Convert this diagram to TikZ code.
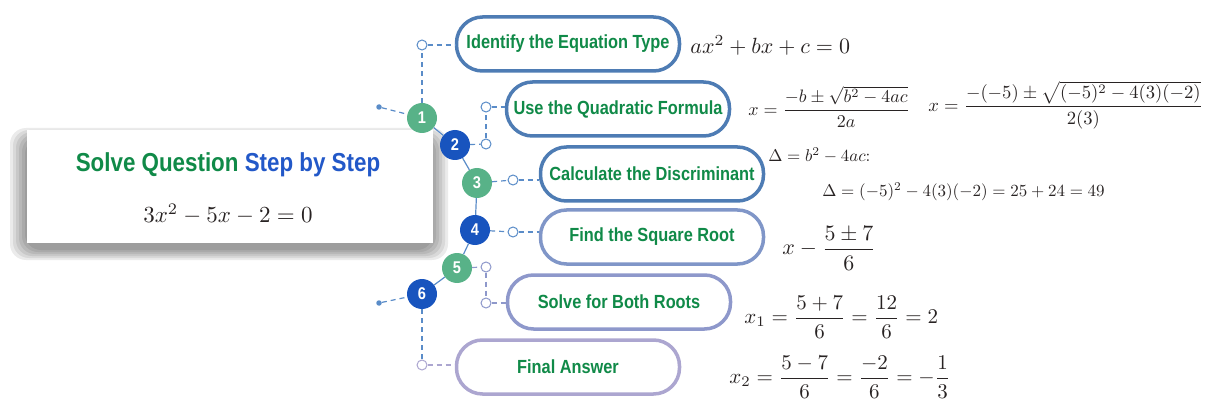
\documentclass[tikz,border=0pt]{standalone}
\usepackage{amsmath}
\usepackage{fontspec}
\newfontfamily\pillfont[FakeStretch=0.86]{Liberation Sans}
\usepackage{tikz}
\usetikzlibrary{calc}

\definecolor{solvegreen}{RGB}{16,138,72}
\definecolor{stepblue}{RGB}{34,88,200}
\definecolor{numgreen}{RGB}{88,178,136}
\definecolor{numblue}{RGB}{24,84,190}
\definecolor{edgeA}{RGB}{78,124,180}
\definecolor{edgeB}{RGB}{128,150,200}
\definecolor{edgeC}{RGB}{142,152,203}
\definecolor{edgeD}{RGB}{172,166,208}
\definecolor{linkblue}{RGB}{90,140,200}
\definecolor{mathgray}{RGB}{40,35,35}

\begin{document}
\begin{tikzpicture}[x=1pt, y=-1pt,
        pill/.style={draw=#1, line width=3.5pt, fill=white, rounded corners=26pt,
            minimum width=223pt, minimum height=54pt, text=solvegreen,
            font=\pillfont\bfseries\fontsize{19}{21}\selectfont},
        pill/.default=edgeA,
        stepnum/.style={circle, fill=#1, minimum size=30pt, inner sep=0pt, text=white,
            font=\pillfont\bfseries\fontsize{17}{19}\selectfont},
        hole/.style={circle, draw=#1, fill=white, line width=1pt, minimum size=10pt, inner sep=0pt},
        hole/.default=linkblue,
        dot/.style={circle, fill=linkblue, minimum size=5.5pt, inner sep=0pt},
        branch/.style={draw=#1, line width=1.2pt, dash pattern=on 5pt off 4pt},
        branch/.default=linkblue,
        chain/.style={draw=linkblue, line width=1.2pt},
        eq/.style={anchor=west, inner sep=0pt, text=mathgray, scale=#1},
        eq/.default=2]
        \useasboundingbox (0,0) rectangle (1218,406);

        % card with its soft shadow
        \foreach \k in {0,...,5} {
            \fill[black, opacity=0.08, rounded corners=16pt] (10+3*\k,128+2*\k) rectangle (448-3*\k,260-2*\k);
        }
        \fill[white] (27,130) rectangle (433,243);
        \node[font=\pillfont\bfseries\fontsize{26}{30}\selectfont] (title) at (228,165)
            {\textcolor{solvegreen}{Solve Question} \textcolor{stepblue}{Step by Step}};
        \node[eq=2.3, anchor=center] (problem) at (228,214) {$3x^2-5x-2=0$};

        % numbered steps
        \foreach \n/\x/\y/\c in {1/422/118/numgreen, 2/455/145/numblue, 3/477/183/numgreen,
                4/475/230/numblue, 5/457/268/numgreen, 6/422/294/numblue} {
            \node[stepnum=\c] (c\n) at (\x,\y) {\n};
        }
        \foreach \a/\b in {1/2, 2/3, 3/4, 4/5, 5/6} {
            \draw[chain] (c\a) -- (c\b);
        }

        % step boxes
        \node[pill] (p1) at (568,44) {Identify the Equation Type};
        \node[pill] (p2) at (618,109) {Use the Quadratic Formula};
        \node[pill] (p3) at (652,174) {Calculate the Discriminant};
        \node[pill=edgeB] (p4) at (652,237) {Find the Square Root};
        \node[pill=edgeC] (p5) at (619,302) {Solve for Both Roots};
        \node[pill=edgeD] (p6) at (568,367) {Final Answer};

        % branches
        \node[dot] (d1) at (379,107) {};
        \node[dot] (d6) at (379,303) {};
        \draw[branch] (d1) -- (c1);
        \draw[branch] (d6) -- (c6);

        \node[hole] (h1) at (422,45) {};
        \node[hole] (h2a) at (486,144) {};
        \node[hole] (h2b) at (486,107) {};
        \node[hole] (h3) at (513,180) {};
        \node[hole] (h4) at (513,232) {};
        \node[hole=edgeC] (h5a) at (486,267) {};
        \node[hole=edgeC] (h5b) at (486,303) {};
        \node[hole=edgeD] (h6) at (422,365) {};

        \draw[branch] (c1) -- (h1);
        \draw[branch] (h1) -- (h1 -| p1.west);
        \draw[branch] (c2) -- (h2a);
        \draw[branch] (h2a) -- (h2b);
        \draw[branch] (h2b) -- (h2b -| p2.west);
        \draw[branch] (c3) -- (h3);
        \draw[branch] (h3) -- (h3 -| p3.west);
        \draw[branch] (c4) -- (h4);
        \draw[branch] (h4) -- (h4 -| p4.west);
        \draw[branch=edgeC] (c5) -- (h5a);
        \draw[branch=edgeC] (h5a) -- (h5b);
        \draw[branch=edgeC] (h5b) -- (h5b -| p5.west);
        \draw[branch] (c6) -- (h6);
        \draw[branch=edgeD] (h6) -- (h6 -| p6.west);

        % worked equations
        \node[eq=2.2] (e1) at (690,45) {$ax^2+bx+c=0$};
        \node[eq=1.8] (e2) at (748,107) {$\displaystyle x=\frac{-b\pm\sqrt{b^2-4ac}}{2a}$};
        \node[eq=1.86] (e3) at (928,105) {$\displaystyle x=\frac{-(-5)\pm\sqrt{(-5)^2-4(3)(-2)}}{2(3)}$};
        \node[eq=1.7] (e4) at (768,155) {$\Delta=b^2-4ac$:};
        \node[eq=1.7] (e5) at (822,192) {$\Delta=(-5)^2-4(3)(-2)=25+24=49$};
        \node[eq=2.2] (e6) at (782,248) {$\displaystyle x-\frac{5\pm7}{6}$};
        \node[eq=2.1] (e7) at (744,317) {$\displaystyle x_1=\frac{5+7}{6}=\frac{12}{6}=2$};
        \node[eq=2.1] (e8) at (729,377) {$\displaystyle x_2=\frac{5-7}{6}=\frac{-2}{6}=-\frac{1}{3}$};
    \end{tikzpicture}
\end{document}
